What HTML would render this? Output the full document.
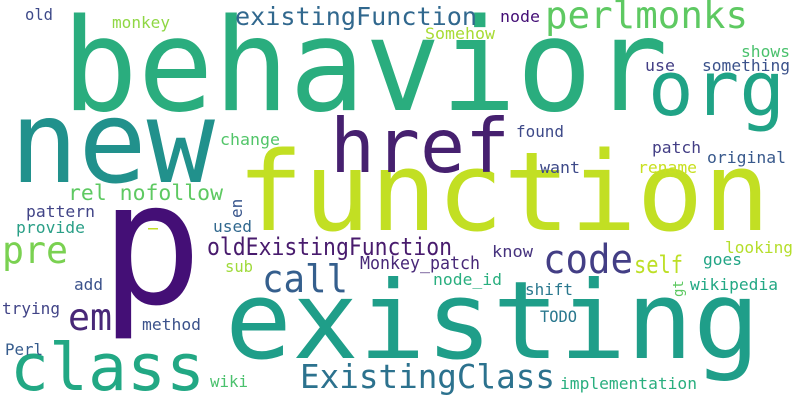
<!DOCTYPE html>
<html><head><meta charset="utf-8"><style>
html,body{margin:0;padding:0;background:#fff;width:800px;height:400px;overflow:hidden}
text{font-family:"DejaVu Sans Mono","Liberation Mono",monospace}
</style></head><body>
<svg width="800" height="400" xmlns="http://www.w3.org/2000/svg">
<rect width="800" height="400" fill="#fff"/>
<g>
<text x="62" y="110" font-size="128" fill="#2aad7e" textLength="606" lengthAdjust="spacingAndGlyphs">behavior</text>
<text x="237" y="230" font-size="110" fill="#c2df23" textLength="533" lengthAdjust="spacingAndGlyphs">function</text>
<text x="225" y="358" font-size="108" fill="#1f9e89" textLength="535" lengthAdjust="spacingAndGlyphs">existing</text>
<text x="10" y="182" font-size="114" fill="#21918c" textLength="205" lengthAdjust="spacingAndGlyphs">new</text>
<text x="100" y="303" font-size="170" fill="#440f76">p</text>
<text x="648" y="115" font-size="76" fill="#20a386" textLength="137" lengthAdjust="spacingAndGlyphs">org</text>
<text x="330" y="172" font-size="75" fill="#46206f" textLength="180" lengthAdjust="spacingAndGlyphs">href</text>
<text x="10" y="390" font-size="65" fill="#22a884" textLength="195" lengthAdjust="spacingAndGlyphs">class</text>
<text x="300" y="388" font-size="33" fill="#2c728e" textLength="255" lengthAdjust="spacingAndGlyphs">ExistingClass</text>
<text x="543" y="273" font-size="40" fill="#433e85" textLength="90" lengthAdjust="spacingAndGlyphs">code</text>
<text x="262" y="292" font-size="38" fill="#355f8d" textLength="86" lengthAdjust="spacingAndGlyphs">call</text>
<text x="68" y="330" font-size="37" fill="#482878" textLength="44" lengthAdjust="spacingAndGlyphs">em</text>
<text x="2" y="263" font-size="37" fill="#7ad151" textLength="66" lengthAdjust="spacingAndGlyphs">pre</text>
<text x="545" y="28" font-size="37" fill="#5ec962" textLength="203" lengthAdjust="spacingAndGlyphs">perlmonks</text>
<text x="235" y="25" font-size="25" fill="#31688e" textLength="242" lengthAdjust="spacingAndGlyphs">existingFunction</text>
<text x="68" y="200" font-size="21" fill="#5ec962" textLength="155" lengthAdjust="spacingAndGlyphs">rel nofollow</text>
<text x="207" y="255" font-size="24" fill="#481b6d" textLength="245" lengthAdjust="spacingAndGlyphs">oldExistingFunction</text>
<text x="634" y="273" font-size="24" fill="#bddf26" textLength="49" lengthAdjust="spacingAndGlyphs">self</text>
<text x="360" y="269" font-size="18" fill="#482878" textLength="120" lengthAdjust="spacingAndGlyphs">Monkey_patch</text>
<text x="433" y="285" font-size="16" fill="#29af7f" textLength="69" lengthAdjust="spacingAndGlyphs">node_id</text>
<text x="525" y="295" font-size="16" fill="#2a788e" textLength="48" lengthAdjust="spacingAndGlyphs">shift</text>
<text x="540" y="322" font-size="16" fill="#2a788e" textLength="37" lengthAdjust="spacingAndGlyphs">TODO</text>
<text x="690" y="290" font-size="16" fill="#22a884" textLength="88" lengthAdjust="spacingAndGlyphs">wikipedia</text>
<text x="703" y="265" font-size="16" fill="#21a585" textLength="39" lengthAdjust="spacingAndGlyphs">goes</text>
<text x="725" y="253" font-size="16" fill="#b5de2b" textLength="68" lengthAdjust="spacingAndGlyphs">looking</text>
<text x="492" y="257" font-size="16" fill="#46337e" textLength="41" lengthAdjust="spacingAndGlyphs">know</text>
<text x="560" y="389" font-size="16" fill="#29af7f" textLength="137" lengthAdjust="spacingAndGlyphs">implementation</text>
<text x="210" y="387" font-size="16" fill="#4ac16d" textLength="38" lengthAdjust="spacingAndGlyphs">wiki</text>
<text x="5" y="355" font-size="16" fill="#365c8d" textLength="38" lengthAdjust="spacingAndGlyphs">Perl</text>
<text x="142" y="330" font-size="16" fill="#3b528b" textLength="59" lengthAdjust="spacingAndGlyphs">method</text>
<text x="2" y="314" font-size="16" fill="#414487" textLength="58" lengthAdjust="spacingAndGlyphs">trying</text>
<text x="74" y="290" font-size="16" fill="#3b528b" textLength="29" lengthAdjust="spacingAndGlyphs">add</text>
<text x="225" y="272" font-size="16" fill="#9fda3a" textLength="28" lengthAdjust="spacingAndGlyphs">sub</text>
<text x="213" y="232" font-size="16" fill="#31688e" textLength="39" lengthAdjust="spacingAndGlyphs">used</text>
<text x="16" y="233" font-size="16" fill="#2a9f87" textLength="69" lengthAdjust="spacingAndGlyphs">provide</text>
<text x="26" y="217" font-size="16" fill="#414487" textLength="69" lengthAdjust="spacingAndGlyphs">pattern</text>
<text x="25" y="20" font-size="16" fill="#3e4a89" textLength="28" lengthAdjust="spacingAndGlyphs">old</text>
<text x="112" y="28" font-size="16" fill="#8fd744" textLength="58" lengthAdjust="spacingAndGlyphs">monkey</text>
<text x="425" y="39" font-size="16" fill="#a8db34" textLength="70" lengthAdjust="spacingAndGlyphs">Somehow</text>
<text x="500" y="22" font-size="16" fill="#440f76" textLength="40" lengthAdjust="spacingAndGlyphs">node</text>
<text x="741" y="57" font-size="16" fill="#4ac16d" textLength="49" lengthAdjust="spacingAndGlyphs">shows</text>
<text x="702" y="71" font-size="16" fill="#3b528b" textLength="88" lengthAdjust="spacingAndGlyphs">something</text>
<text x="645" y="71" font-size="16" fill="#433e85" textLength="30" lengthAdjust="spacingAndGlyphs">use</text>
<text x="516" y="137" font-size="16" fill="#3e4a89" textLength="48" lengthAdjust="spacingAndGlyphs">found</text>
<text x="220" y="145" font-size="16" fill="#52c569" textLength="60" lengthAdjust="spacingAndGlyphs">change</text>
<text x="652" y="153" font-size="16" fill="#433e85" textLength="49" lengthAdjust="spacingAndGlyphs">patch</text>
<text x="707" y="163" font-size="16" fill="#38598c" textLength="79" lengthAdjust="spacingAndGlyphs">original</text>
<text x="540" y="173" font-size="16" fill="#3e4a89" textLength="40" lengthAdjust="spacingAndGlyphs">want</text>
<text x="638" y="173" font-size="16" fill="#c8e020" textLength="59" lengthAdjust="spacingAndGlyphs">rename</text>
<text transform="translate(242,218) rotate(-90)" font-size="16" fill="#39568c">en</text>
<text transform="translate(683,297) rotate(-90)" font-size="14" fill="#5ec962">gt</text>
<rect x="148" y="228" width="10" height="1.5" fill="#c2df23"/>
</g>
</svg>
</body></html>
